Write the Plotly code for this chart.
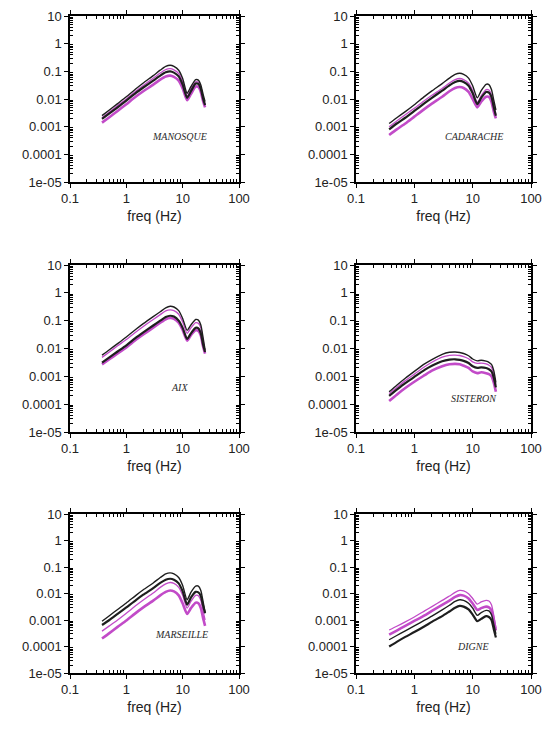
import math
import plotly.graph_objects as go

# ---------------- data ----------------
freq = [0.37, 0.5, 0.7, 1.0, 1.5, 2.0, 3.0, 4.0, 5.0, 6.0, 7.0, 8.5, 10, 12, 14, 17, 19, 21, 23, 25]

stations = ["MANOSQUE", "CADARACHE", "AIX", "SISTERON", "MARSEILLE", "DIGNE"]

# black upper, magenta upper, black lower, magenta lower
manosque_bu = [0.0025, 0.004, 0.0068, 0.012, 0.024, 0.038, 0.07, 0.11, 0.15, 0.165, 0.15, 0.11, 0.055, 0.016, 0.028, 0.05, 0.048, 0.032, 0.015, 0.008]
manosque_mu = [0.0021, 0.0034, 0.0058, 0.010, 0.020, 0.031, 0.056, 0.087, 0.116, 0.125, 0.113, 0.083, 0.042, 0.013, 0.023, 0.042, 0.040, 0.027, 0.012, 0.0065]
manosque_bl = [0.0019, 0.003, 0.005, 0.0088, 0.017, 0.026, 0.046, 0.07, 0.092, 0.1, 0.09, 0.066, 0.033, 0.011, 0.019, 0.036, 0.035, 0.023, 0.0105, 0.006]
manosque_ml = [0.0014, 0.0022, 0.0037, 0.0065, 0.0125, 0.019, 0.033, 0.05, 0.065, 0.07, 0.063, 0.046, 0.024, 0.009, 0.015, 0.028, 0.027, 0.018, 0.0085, 0.005]

cadarache_bu = [0.0013, 0.0021, 0.0035, 0.0062, 0.0124, 0.0196, 0.036, 0.057, 0.077, 0.085, 0.077, 0.057, 0.03, 0.011, 0.02, 0.034, 0.033, 0.022, 0.009, 0.004]
cadarache_mu = [0.001, 0.0016, 0.0027, 0.0046, 0.0088, 0.0136, 0.024, 0.038, 0.05, 0.055, 0.05, 0.037, 0.02, 0.0075, 0.013, 0.022, 0.021, 0.014, 0.006, 0.0028]
cadarache_bl = [0.0008, 0.0013, 0.0021, 0.0037, 0.0071, 0.011, 0.02, 0.031, 0.041, 0.045, 0.041, 0.03, 0.016, 0.0065, 0.011, 0.018, 0.017, 0.012, 0.005, 0.0025]
cadarache_ml = [0.0005, 0.0008, 0.0013, 0.0023, 0.0044, 0.0068, 0.012, 0.019, 0.025, 0.027, 0.025, 0.018, 0.01, 0.005, 0.008, 0.012, 0.012, 0.008, 0.0035, 0.002]

aix_bu = [0.0058, 0.009, 0.015, 0.026, 0.05, 0.078, 0.14, 0.21, 0.29, 0.33, 0.31, 0.23, 0.12, 0.045, 0.07, 0.11, 0.105, 0.07, 0.025, 0.009]
aix_mu = [0.0048, 0.0075, 0.0125, 0.021, 0.04, 0.062, 0.11, 0.165, 0.225, 0.245, 0.23, 0.17, 0.09, 0.035, 0.055, 0.085, 0.08, 0.055, 0.02, 0.008]
aix_bl = [0.0031, 0.0048, 0.0078, 0.013, 0.025, 0.038, 0.067, 0.1, 0.135, 0.15, 0.14, 0.1, 0.055, 0.022, 0.035, 0.055, 0.053, 0.035, 0.014, 0.0075]
aix_ml = [0.0027, 0.0041, 0.0066, 0.011, 0.021, 0.032, 0.056, 0.084, 0.113, 0.125, 0.117, 0.085, 0.046, 0.019, 0.03, 0.045, 0.043, 0.029, 0.012, 0.0065]

sisteron_bu = [0.00028, 0.00048, 0.00085, 0.0015, 0.0028, 0.004, 0.0062, 0.0073, 0.0075, 0.0072, 0.0066, 0.0055, 0.0042, 0.0036, 0.0038, 0.0035, 0.0032, 0.0027, 0.0016, 0.0006]
sisteron_mu = [0.00024, 0.0004, 0.0007, 0.0012, 0.0022, 0.0032, 0.0049, 0.0057, 0.0058, 0.0056, 0.0051, 0.0043, 0.0033, 0.0029, 0.003, 0.0028, 0.0025, 0.0021, 0.0012, 0.0005]
sisteron_bl = [0.0002, 0.00033, 0.00057, 0.00095, 0.0017, 0.0024, 0.0035, 0.004, 0.0041, 0.0039, 0.0036, 0.003, 0.0023, 0.002, 0.0021, 0.002, 0.0018, 0.0015, 0.0009, 0.0004]
sisteron_ml = [0.00013, 0.00022, 0.00038, 0.00064, 0.0011, 0.0016, 0.0023, 0.0027, 0.0028, 0.0027, 0.0024, 0.002, 0.0015, 0.0013, 0.0014, 0.0013, 0.0012, 0.001, 0.0006, 0.00028]

marseille_bu = [0.0009, 0.00145, 0.0025, 0.0044, 0.0087, 0.0138, 0.025, 0.04, 0.055, 0.06, 0.055, 0.04, 0.02, 0.0058, 0.011, 0.019, 0.019, 0.013, 0.005, 0.002]
marseille_mu = [0.00038, 0.0006, 0.001, 0.0018, 0.0036, 0.0057, 0.0105, 0.017, 0.023, 0.026, 0.024, 0.017, 0.0085, 0.0028, 0.005, 0.0085, 0.0082, 0.0055, 0.0022, 0.001]
marseille_bl = [0.00065, 0.001, 0.0017, 0.003, 0.0058, 0.009, 0.016, 0.025, 0.033, 0.036, 0.033, 0.024, 0.012, 0.0038, 0.007, 0.0115, 0.011, 0.008, 0.0035, 0.0018]
marseille_ml = [0.0002, 0.00032, 0.00055, 0.00095, 0.0019, 0.003, 0.0054, 0.0085, 0.0115, 0.013, 0.012, 0.0085, 0.0042, 0.0017, 0.0028, 0.0045, 0.0043, 0.0028, 0.0012, 0.0006]

digne_bu = [0.00018, 0.00026, 0.00039, 0.0006, 0.00098, 0.0014, 0.0024, 0.0036, 0.005, 0.0058, 0.0055, 0.0043, 0.0028, 0.0015, 0.0019, 0.0023, 0.0022, 0.0016, 0.0007, 0.0003]
digne_mu = [0.00042, 0.00058, 0.00085, 0.0013, 0.0022, 0.0032, 0.0055, 0.008, 0.011, 0.013, 0.0125, 0.0098, 0.0065, 0.004, 0.0048, 0.0055, 0.0052, 0.0038, 0.0015, 0.0005]
digne_bl = [0.0001, 0.00015, 0.00023, 0.00035, 0.00058, 0.00085, 0.0014, 0.0021, 0.0029, 0.0034, 0.0032, 0.0025, 0.0016, 0.0009, 0.0011, 0.0014, 0.0013, 0.001, 0.00045, 0.00022]
digne_ml = [0.00028, 0.0004, 0.0006, 0.00092, 0.0015, 0.0022, 0.0037, 0.0054, 0.0074, 0.0087, 0.0083, 0.0065, 0.0042, 0.0024, 0.0028, 0.0032, 0.003, 0.0023, 0.001, 0.0004]

series = [
    (manosque_bu, manosque_mu, manosque_bl, manosque_ml),
    (cadarache_bu, cadarache_mu, cadarache_bl, cadarache_ml),
    (aix_bu, aix_mu, aix_bl, aix_ml),
    (sisteron_bu, sisteron_mu, sisteron_bl, sisteron_ml),
    (marseille_bu, marseille_mu, marseille_bl, marseille_ml),
    (digne_bu, digne_mu, digne_bl, digne_ml),
]

x_tickvals = [0.1, 1, 10, 100]
x_ticktext = ["0.1", "1", "10", "100"]
y_tickvals = [10, 1, 0.1, 0.01, 0.001, 0.0001, 0.00001]
y_ticktext = ["10", "1", "0.1", "0.01", "0.001", "0.0001", "1e-05"]

# ---------------- layout geometry ----------------
W, H = 548, 729
col_px = [(70, 239), (356, 531)]
row_px = [(16, 182), (265, 432), (514, 673)]
label_pos = [(8.9, 0.00043), (10.5, 0.00043), (8.9, 0.00041), (10.5, 0.000165), (9.5, 0.00029), (10.0, 0.0001)]

black = "#1e1e1e"
magenta = "#c24bc8"
font_sans = "Liberation Sans, Arial, sans-serif"

fig = go.Figure()
layout_axes = {}

minor_x = [m * 10 ** e for e in range(-1, 2) for m in range(2, 10)]
minor_y = [m * 10 ** e for e in range(-5, 1) for m in range(2, 10)]

for i, name in enumerate(stations):
    r, c = divmod(i, 2)
    x0, x1 = col_px[c]
    y0, y1 = row_px[r]
    xa = "x" if i == 0 else f"x{i+1}"
    ya = "y" if i == 0 else f"y{i+1}"
    bu, mu, bl, ml = series[i]
    styles = [
        (mu, magenta, 1.3),
        (ml, magenta, 2.6),
        (bu, black, 1.4),
        (bl, black, 2.2),
    ]
    for vals, col, w in styles:
        fig.add_trace(go.Scatter(
            x=freq, y=vals, mode="lines", xaxis=xa, yaxis=ya,
            line=dict(color=col, width=w, shape="spline", smoothing=0.6),
            showlegend=False, hoverinfo="skip"))

    common = dict(
        type="log", showline=True, linecolor="black", linewidth=1.5,
        mirror="ticks", ticks="outside", ticklen=4, tickwidth=1.2, tickcolor="black",
        showgrid=False, zeroline=False,
        tickfont=dict(family=font_sans, size=13, color="#222"),
        automargin=False,
    )
    layout_axes["xaxis" if i == 0 else f"xaxis{i+1}"] = dict(
        common,
        domain=[x0 / W, x1 / W], anchor=ya,
        range=[-1, 2], tickmode="array", tickvals=x_tickvals, ticktext=x_ticktext,
        minor=dict(tickmode="array", tickvals=minor_x, ticks="inside", ticklen=3,
                   tickcolor="black", tickwidth=1, showgrid=False),
        title=dict(text="freq (Hz)", standoff=6,
                   font=dict(family=font_sans, size=14, color="#222")),
    )
    layout_axes["yaxis" if i == 0 else f"yaxis{i+1}"] = dict(
        common,
        domain=[1 - y1 / H, 1 - y0 / H], anchor=xa,
        range=[-5, 1], tickmode="array", tickvals=y_tickvals, ticktext=y_ticktext,
        minor=dict(tickmode="array", tickvals=minor_y, ticks="inside", ticklen=3,
                   tickcolor="black", tickwidth=1, showgrid=False),
    )
    lx, ly = label_pos[i]
    fig.add_annotation(
        x=math.log10(lx), y=math.log10(ly),
        xref=xa, yref=ya, text=f"<i>{name}</i>", showarrow=False,
        font=dict(family="Liberation Serif, Times New Roman, serif", size=10, color="#2a2a2a"),
    )

fig.update_layout(
    width=W, height=H,
    margin=dict(l=0, r=0, t=0, b=0),
    paper_bgcolor="white", plot_bgcolor="white",
    **layout_axes,
)

fig.write_html("out.html", config={"displayModeBar": False},
               post_script="document.body.style.margin='0';document.body.style.padding='0';")
